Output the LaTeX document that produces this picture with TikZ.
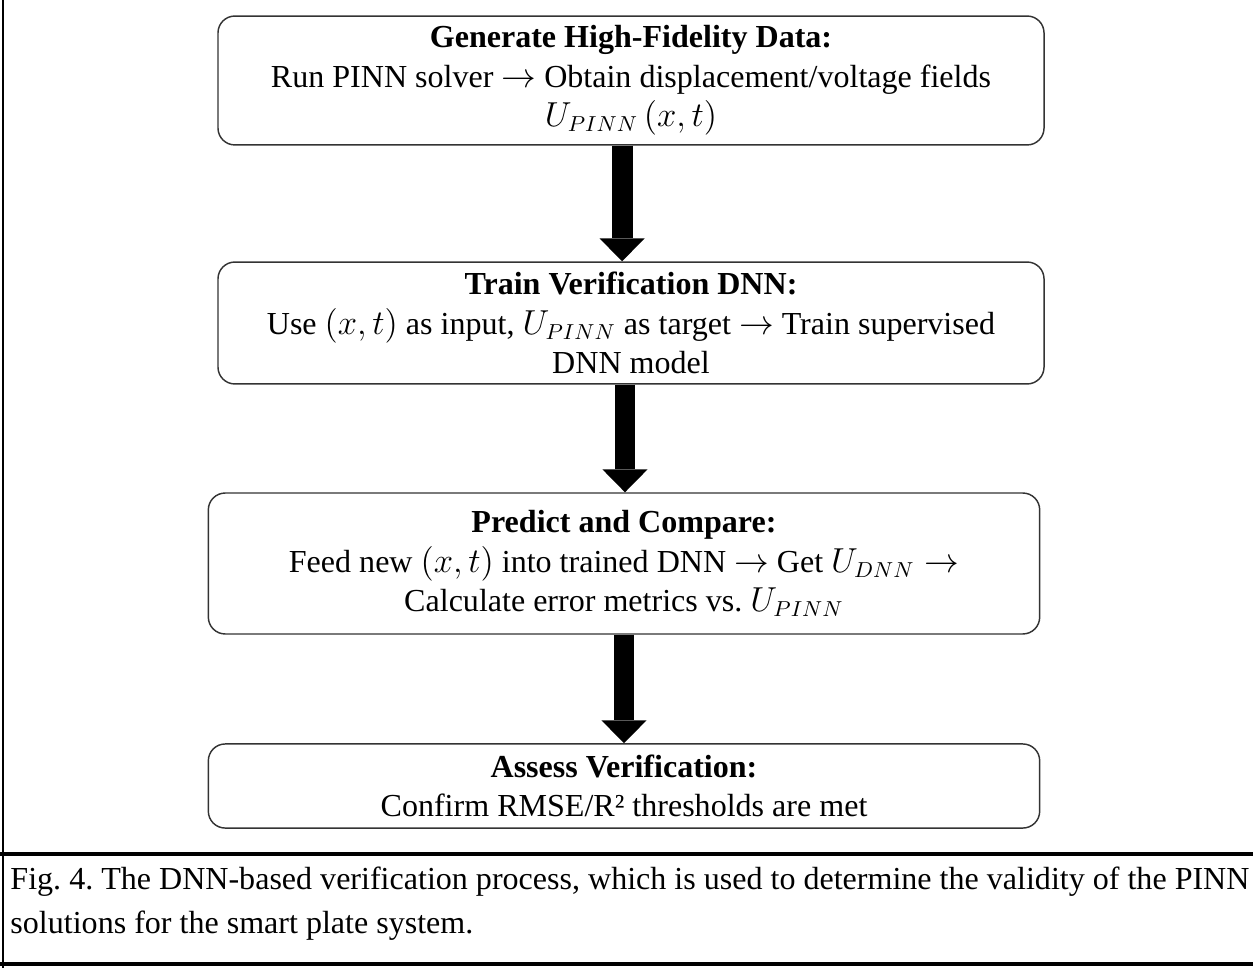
\documentclass[tikz,border=0pt]{standalone}
\usepackage{fontspec}
\setmainfont{Liberation Serif}
\usepackage{amsmath}
\usepackage{tikz}
\usetikzlibrary{arrows.meta,positioning}
\frenchspacing

\begin{document}
\begin{tikzpicture}[
    x=0.415pt, y=-0.415pt,
    box/.style={rectangle, rounded corners=7pt, draw=black!80, line width=0.6pt, fill=white, align=center, inner sep=0pt, font=\fontsize{13.3}{16.3}\selectfont},
    arrow/.style={-{Triangle[width=18.7pt, length=9.5pt, line width=0pt]}, line width=8.7pt},
    caption/.style={anchor=base west, inner sep=0pt, font=\fontsize{13.3}{16}\selectfont}
]
    \useasboundingbox (0,0) rectangle (1253,968);

    % Frame
    \draw[line width=0.9pt] (3,0) -- (3,968);
    \draw[line width=1.3pt] (0,854) -- (1253,854);
    \draw[line width=1.3pt] (0,964) -- (1253,964);

    % Nodes
    \node[box, minimum width=342.8pt, minimum height=53.5pt] (gen) at (631,80.5)
        {\textbf{Generate High-Fidelity Data:}\\ Run PINN solver $\rightarrow$ Obtain displacement/voltage fields\\ $U_{PINN}\,(x,t)$};
    \node[box, minimum width=342.8pt, minimum height=50.6pt] (train) at (631,323)
        {\textbf{Train Verification DNN:}\\ Use $(x,t)$ as input, $U_{PINN}$ as target $\rightarrow$ Train supervised\\ DNN model};
    \node[box, minimum width=345pt, minimum height=58.5pt] (pred) at (624,563.5)
        {\textbf{Predict and Compare:}\\ Feed new $(x,t)$ into trained DNN $\rightarrow$ Get $U_{DNN}\rightarrow$\\ Calculate error metrics vs. $U_{PINN}$};
    \node[box, minimum width=345pt, minimum height=34.9pt] (assess) at (624,786)
        {\textbf{Assess Verification:}\\ Confirm RMSE/R² thresholds are met};
    \node[caption] (cap1) at (10,889) {Fig. 4. The DNN-based verification process, which is used to determine the validity of the PINN};
    \node[caption] (cap2) at (10,933) {solutions for the smart plate system.};

    % Arrows
    \draw[arrow] ([xshift=-3.7pt]gen.south) -- ([xshift=-3.7pt]gen.south |- train.north);
    \draw[arrow] ([xshift=-2.5pt]train.south) -- ([xshift=-2.5pt]train.south |- pred.north);
    \draw[arrow] (pred.south) -- (pred.south |- assess.north);
\end{tikzpicture}
\end{document}
